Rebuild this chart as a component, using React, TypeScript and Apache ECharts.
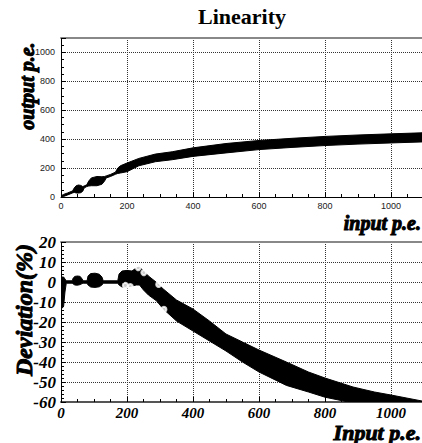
import React, { useEffect, useRef } from "react";
import * as echarts from "echarts";

// ---- data ----
const xTickLabels = ["0", "200", "400", "600", "800", "1000"];

// Linearity: output p.e. band (lower / upper edge of the dense point cloud)
const topInput = [0, 8, 20, 35, 40, 46, 53, 60, 66, 70, 78, 84, 92, 109, 124, 132, 137, 150, 165, 172, 180, 200, 236, 286, 337, 400, 500, 600, 700, 800, 900, 1000, 1094];
const topLow = [0, 4, 14, 28, 32, 28, 27, 30, 40, 62, 72, 76, 78, 78, 88, 110, 132, 142, 157, 163, 166, 175, 216, 244, 258, 281, 305, 328, 343, 356, 366, 374, 381];
const topHigh = [8, 18, 28, 42, 62, 78, 83, 80, 72, 76, 84, 110, 132, 142, 140, 142, 146, 156, 172, 200, 216, 235, 267, 297, 313, 340, 370, 391, 406, 419, 429, 437, 444];

// Deviation (%) band
const devInput = [0, 4, 8, 12, 16, 34, 37, 42, 50, 58, 64, 67, 79, 82, 90, 103, 116, 124, 128, 172, 176, 185, 200, 215, 228, 238, 250, 265, 290, 310, 350, 400, 450, 500, 550, 600, 683, 750, 800, 885, 950, 1000, 1094];
const devLow = [-13, -13, -12, -5, -0.6, -0.6, -1, -1.5, -1.6, -1.3, -0.8, -0.6, -0.6, -1.5, -2.5, -2.7, -2.4, -1.5, -0.6, -0.6, -1.5, -2.5, -2.5, -2, -1.5, -1.5, -4, -6.5, -9.5, -13.5, -19.5, -24.5, -29.5, -34.5, -40, -45, -51.7, -55, -57.6, -60.5, -63, -64, -66];
const devHigh = [2, 2.5, 2.5, 1.5, 0.6, 0.6, 2, 2.8, 3, 2.8, 1.5, 0.6, 0.6, 3, 4.2, 4.4, 3.9, 2.5, 0.6, 0.6, 4, 5.5, 5.8, 5.5, 7, 7.5, 5.5, 3, -0.3, -3.5, -9, -13.5, -19.5, -26, -30, -34, -40, -45, -48, -52.5, -55, -56.5, -59.5];

// zero reference line in the deviation plot
const fitX = [0, 190];
const fitY = [0, 0];

// open-circle outliers at the edges of the deviation cloud
const outlierX = [195, 210, 234, 251, 296, 312, 444];
const outlierY = [-1.7, -2.3, 7.2, 4.7, -1.2, -13.7, -32.8];

const heavy = {
  fontFamily: "Liberation Serif",
  fontWeight: "bold" as const,
  fontStyle: "italic" as const,
};

function band(xs: number[], lo: number[], hi: number[], xi: number, yi: number) {
  return {
    type: "custom",
    xAxisIndex: xi,
    yAxisIndex: yi,
    clip: true,
    silent: true,
    data: [[xs[0], lo[0]]],
    encode: { x: 0, y: 1 },
    renderItem: (_p: any, api: any) => {
      const pts: number[][] = [];
      for (let i = 0; i < xs.length; i++) pts.push(api.coord([xs[i], hi[i]]));
      for (let i = xs.length - 1; i >= 0; i--) pts.push(api.coord([xs[i], lo[i]]));
      return {
        type: "polygon",
        shape: { points: pts },
        style: { fill: "#000", stroke: "#000", lineWidth: 1 },
      };
    },
  };
}

const fmtX = (v: number) => {
  const s = String(Math.round(v));
  return xTickLabels.indexOf(s) >= 0 ? s : "";
};

export default function App() {
  const ref = useRef<HTMLDivElement>(null);
  useEffect(() => {
    if (!ref.current) return;
    const chart = echarts.init(ref.current, undefined, { renderer: "svg" });
    const dotted = { show: true, lineStyle: { type: "dotted" as const, color: "#333", width: 1 } };
    const topX = {
      type: "value",
      gridIndex: 0,
      min: 0,
      max: 1094,
      interval: 200,
      axisLine: { show: true, onZero: false, lineStyle: { color: "#000", width: 1 } },
      axisTick: { show: true, inside: true, length: 5, lineStyle: { color: "#000" } },
      minorTick: { show: true, splitNumber: 4, length: 3, lineStyle: { color: "#000" } },
      splitLine: dotted,
      axisLabel: { fontSize: 9, fontFamily: "Liberation Sans", color: "#222", margin: 4, showMaxLabel: false, formatter: fmtX },
    };
    const botX = {
      type: "value",
      gridIndex: 1,
      min: 0,
      max: 1094,
      interval: 200,
      axisLine: { show: true, onZero: false, lineStyle: { color: "#555", width: 2 } },
      axisTick: { show: true, inside: true, length: 5, lineStyle: { color: "#000" } },
      minorTick: { show: true, splitNumber: 4, length: 3, lineStyle: { color: "#000" } },
      splitLine: dotted,
      axisLabel: { fontSize: 15, ...heavy, color: "#000", margin: 3, showMaxLabel: false, formatter: fmtX },
    };
    const border = (gi: number) => ({
      type: "value",
      gridIndex: gi,
      position: "top",
      min: 0,
      max: 1094,
      axisLine: { show: true, onZero: false, lineStyle: { color: "#888", width: 2 } },
      axisTick: { show: false },
      axisLabel: { show: false },
      splitLine: { show: false },
    });
    const option: any = {
      animation: false,
      backgroundColor: "#fff",
      grid: [
        { left: 61, right: 0, top: 38, height: 159 },
        { left: 61, right: 0, top: 242, height: 160 },
      ],
      xAxis: [topX, border(0), botX, border(1)],
      yAxis: [
        {
          type: "value",
          gridIndex: 0,
          min: 0,
          max: 1100,
          interval: 200,
          axisLine: { show: true, onZero: false, lineStyle: { color: "#000", width: 1 } },
          axisTick: { show: true, inside: true, length: 5, lineStyle: { color: "#000" } },
          minorTick: { show: true, splitNumber: 4, length: 3, lineStyle: { color: "#000" } },
          splitLine: dotted,
          axisLabel: { fontSize: 9, fontFamily: "Liberation Sans", color: "#222", margin: 6, showMaxLabel: false, formatter: (v: number) => String(v) },
        },
        {
          type: "value",
          gridIndex: 1,
          min: -60,
          max: 20,
          interval: 10,
          axisLine: { show: true, onZero: false, lineStyle: { color: "#000", width: 1 } },
          axisTick: { show: true, inside: true, length: 5, lineStyle: { color: "#000" } },
          minorTick: { show: true, splitNumber: 5, length: 3, lineStyle: { color: "#000" } },
          splitLine: dotted,
          axisLabel: { fontSize: 17, ...heavy, color: "#000", margin: 5, formatter: (v: number) => String(v) },
        },
      ],
      graphic: [
        {
          type: "text",
          x: 242,
          y: 16,
          style: { text: "Linearity", font: "bold 22px 'Liberation Serif'", fill: "#000", align: "center", verticalAlign: "middle" },
        },
        {
          type: "text",
          x: 27,
          y: 86,
          rotation: Math.PI / 2,
          style: { text: "output p.e.", font: "italic bold 20px 'Liberation Serif'", fill: "#000", stroke: "#000", lineWidth: 1, align: "center", verticalAlign: "middle" },
        },
        {
          type: "text",
          x: 421,
          y: 223,
          style: { text: "input p.e.", font: "italic bold 20px 'Liberation Serif'", fill: "#000", stroke: "#000", lineWidth: 1, align: "right", verticalAlign: "middle" },
        },
        {
          type: "text",
          x: 24,
          y: 310,
          rotation: Math.PI / 2,
          style: { text: "Deviation(%)", font: "italic bold 24px 'Liberation Serif'", fill: "#000", stroke: "#000", lineWidth: 1, align: "center", verticalAlign: "middle" },
        },
        {
          type: "text",
          x: 421,
          y: 432,
          style: { text: "Input p.e.", font: "italic bold 22px 'Liberation Serif'", fill: "#000", stroke: "#000", lineWidth: 1, align: "right", verticalAlign: "middle" },
        },
      ],
      series: [
        band(topInput, topLow, topHigh, 0, 0),
        {
          type: "line",
          xAxisIndex: 2,
          yAxisIndex: 1,
          symbol: "none",
          silent: true,
          data: fitX.map((x, i) => [x, fitY[i]]),
          lineStyle: { color: "#000", width: 2 },
        },
        band(devInput, devLow, devHigh, 2, 1),
        {
          type: "scatter",
          xAxisIndex: 2,
          yAxisIndex: 1,
          symbol: "emptyCircle",
          symbolSize: 5,
          silent: true,
          data: outlierX.map((x, i) => [x, outlierY[i]]),
          itemStyle: { color: "#fff", borderColor: "#000", borderWidth: 1 },
        },
      ],
    };
    chart.setOption(option);
    return () => chart.dispose();
  }, []);
  return (
    <div
      ref={ref}
      style={{ position: "absolute", left: 0, top: 0, width: 422, height: 443, background: "#fff" }}
    />
  );
}
